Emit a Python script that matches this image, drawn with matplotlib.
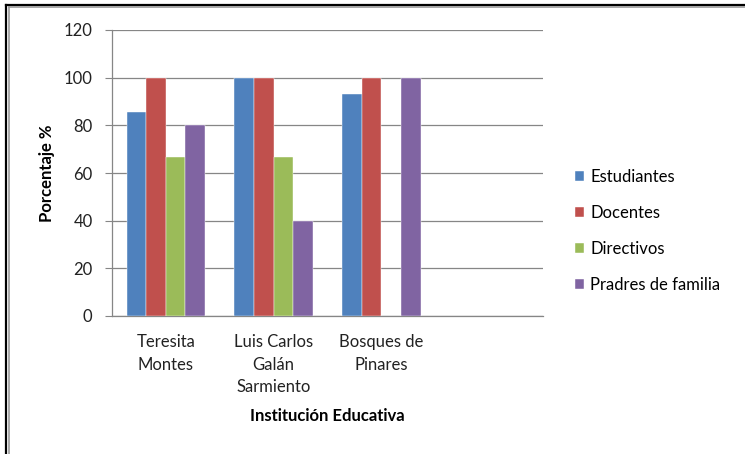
import matplotlib
matplotlib.use("Agg")
import matplotlib.pyplot as plt
import numpy as np
from matplotlib.lines import Line2D

plt.rcParams['font.family'] = ['Lato', 'DejaVu Sans']

categories = ["Teresita\nMontes", "Luis Carlos\nGalán\nSarmiento", "Bosques de\nPinares", ""]
series_names = ["Estudiantes", "Docentes", "Directivos", "Pradres de familia"]
estudiantes = [85.7, 100, 93.3, np.nan]
docentes = [100, 100, 100, np.nan]
directivos = [66.7, 66.7, np.nan, np.nan]
padres = [80, 40, 100, np.nan]
colors = ["#4F81BD", "#C0504D", "#9BBB59", "#8064A2"]
yticks = [0, 20, 40, 60, 80, 100, 120]

fig = plt.figure(figsize=(7.45, 4.54), dpi=100)
ax = fig.add_axes([112/745, 1-316/454, 431/745, 286/454])

x = np.arange(len(categories))
w = 1/5.5
for i, (vals, c, name) in enumerate(zip([estudiantes, docentes, directivos, padres], colors, series_names)):
    ax.bar(x + (i-1.5)*w, vals, width=w, color=c, label=name, zorder=3,
           edgecolor='white', linewidth=0.3)

ax.set_xlim(-0.5, 3.5)
ax.set_ylim(0, 120)
ax.set_yticks(yticks)
ax.set_yticklabels([str(v) for v in yticks], fontsize=12, color='#222222')
ax.set_xticks(x)
ax.set_xticklabels(categories, fontsize=12, color='#222222', linespacing=1.5)
ax.tick_params(axis='x', length=0, pad=13)
ax.tick_params(axis='y', length=5, color='#868686', pad=9)
ax.grid(axis='y', color='#868686', linewidth=0.9, zorder=0)
for s in ['top', 'right']:
    ax.spines[s].set_visible(False)
for s in ['left', 'bottom']:
    ax.spines[s].set_color('#868686')
    ax.spines[s].set_linewidth(0.9)

ax.set_ylabel("Porcentaje %", fontsize=12, fontweight='bold', labelpad=6)
ax.set_xlabel("Institución Educativa", fontsize=12, fontweight='bold', labelpad=9)

leg = ax.legend(loc='center left', bbox_to_anchor=(568/745, 1-231/454),
                bbox_transform=fig.transFigure, frameon=False, fontsize=12,
                handlelength=0.55, handleheight=0.55, handletextpad=0.4,
                labelspacing=1.2, borderaxespad=0)

# figure border
fig.add_artist(Line2D([6.5/745, 6.5/745], [0, 1-5/454], color='black', linewidth=1.6, transform=fig.transFigure))
fig.add_artist(Line2D([6.5/745, 1], [1-5/454, 1-5/454], color='black', linewidth=1.6, transform=fig.transFigure))
fig.add_artist(Line2D([9/745, 9/745], [0, 1-7/454], color='#999999', linewidth=1.2, transform=fig.transFigure))
fig.add_artist(Line2D([9/745, 1], [1-7/454, 1-7/454], color='#999999', linewidth=1.2, transform=fig.transFigure))

fig.savefig("out.png", dpi=100)
